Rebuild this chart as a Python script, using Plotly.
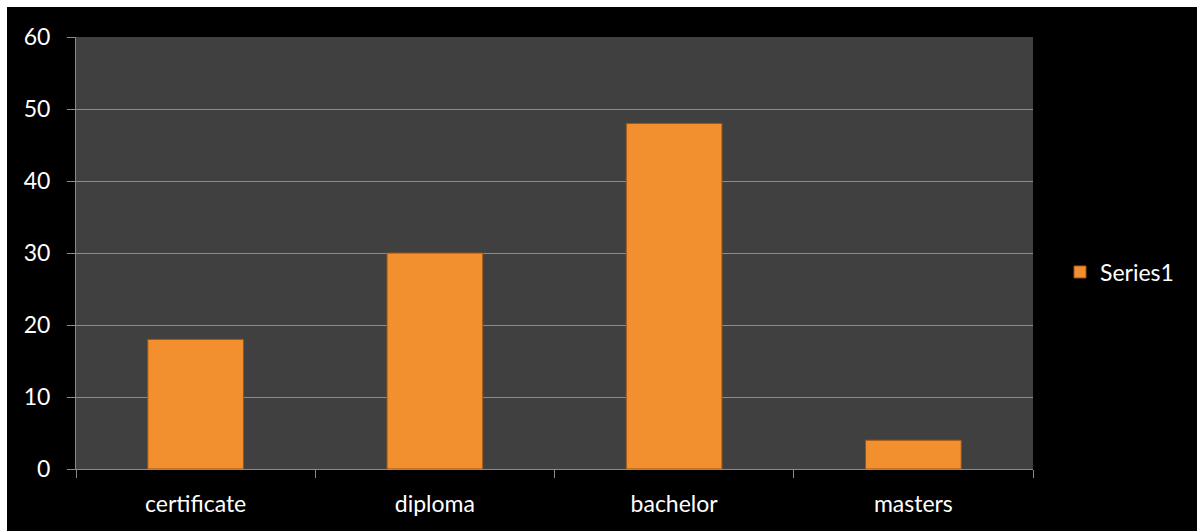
import plotly.graph_objects as go

categories = ["certificate", "diploma", "bachelor", "masters"]
values = [18, 30, 48, 4]
y_ticks = [0, 10, 20, 30, 40, 50, 60]
series_name = "Series1"

W, H = 1197, 531
L, R, T, B = 76, 164, 37, 62
pw, ph = W - L - R, H - T - B

def px_x(px):
    return (px - L) / pw

def px_y(py):
    return (H - B - py) / ph

fig = go.Figure()
fig.add_trace(go.Bar(
    x=categories, y=values, name=series_name, width=0.4,
    marker=dict(color="#F28F2E", line=dict(color="#9C5412", width=1)),
    showlegend=True,
))

font = dict(family="Lato, Open Sans, sans-serif", size=23, color="white")

fig.update_layout(
    width=W, height=H,
    margin=dict(l=L, r=R, t=T, b=B, pad=0),
    paper_bgcolor="black", plot_bgcolor="#404040",
    font=font,
    showlegend=True,
    legend=dict(x=px_x(1060), y=px_y(272), xanchor="left", yanchor="middle",
                font=font, bgcolor="rgba(0,0,0,0)"),
    bargap=0.6,
    xaxis=dict(
        showline=True, linecolor="#8a8a8a", linewidth=1,
        ticks="outside", ticklen=8, tickcolor="#8a8a8a", tickson="boundaries",
        showgrid=False, tickfont=font, ticklabelstandoff=14,
    ),
    yaxis=dict(
        range=[0, 60], tickvals=y_ticks, showline=True, linecolor="#8a8a8a", linewidth=1,
        ticks="outside", ticklen=8, tickcolor="#8a8a8a",
        showgrid=True, gridcolor="#8c8c8c", gridwidth=1, zeroline=False,
        tickfont=font, ticklabelstandoff=12,
    ),
    shapes=[
        dict(type="rect", xref="paper", yref="paper", x0=px_x(-5), x1=px_x(W + 5),
             y0=px_y(7), y1=px_y(-5), fillcolor="white", line=dict(width=0), layer="above"),
        dict(type="rect", xref="paper", yref="paper", x0=px_x(-5), x1=px_x(7),
             y0=px_y(H + 5), y1=px_y(-5), fillcolor="white", line=dict(width=0), layer="above"),
    ],
)

fig.write_html("out.html")
